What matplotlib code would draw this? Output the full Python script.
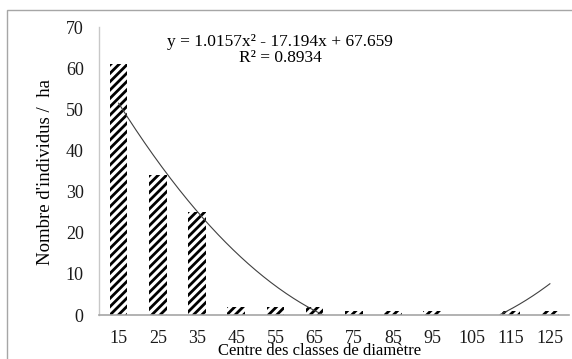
import matplotlib
matplotlib.use("Agg")
import matplotlib.pyplot as plt
import numpy as np
from matplotlib.patches import Rectangle

categories = ["15", "25", "35", "45", "55", "65", "75", "85", "95", "105", "115", "125"]
values = [61, 34, 25, 2, 2, 2, 1, 1, 1, 0, 1, 1]
coef = [1.0157, -17.194, 67.659]
eq_text = "y = 1.0157x² - 17.194x + 67.659"
r2_text = "R² = 0.8934"

plt.rcParams['font.family'] = ['Liberation Serif', 'DejaVu Serif']
plt.rcParams['hatch.linewidth'] = 2.0

W, H = 572, 359
fig = plt.figure(figsize=(W/100, H/100), dpi=100)
fig.patches.append(Rectangle((7/W, -0.1), 1.2, 1.1 - 10/H, transform=fig.transFigure,
                             fill=False, edgecolor='#a6a6a6', linewidth=1.0))

ax = fig.add_axes([99/W, 44/H, (569.5-99)/W, (315-27)/H])
x = np.arange(len(categories))
ax.bar(x, values, width=0.45, color='white', edgecolor='black', linewidth=0, hatch='////')

xi = np.linspace(1, len(categories), 400)
yi = np.polyval(coef, xi)
yi = np.where(yi < 0, np.nan, yi)
ax.plot(xi - 1, yi, color='#404040', linewidth=0.8)

ax.set_xlim(-0.5, len(categories) - 0.5)
ax.set_ylim(0, 70)
ax.set_yticks(range(0, 71, 10))
ax.set_xticks(x)
ax.set_xticklabels(categories)
ax.tick_params(length=0, labelsize=13, colors='#1a1a1a')
ax.tick_params(axis='x', pad=11)
ax.tick_params(axis='y', pad=11)
for s in ['top', 'right']:
    ax.spines[s].set_visible(False)
ax.spines['left'].set_color('#c8c8c8')
ax.spines['bottom'].set_color('#a6a6a6')
ax.spines['left'].set_linewidth(1.0)
ax.spines['bottom'].set_linewidth(1.2)

fig.text(280/W, 1 - 42/H, eq_text, ha='center', va='center', fontsize=12.5)
fig.text(280/W, 1 - 58/H, r2_text, ha='center', va='center', fontsize=12.5)
fig.text(46/W, 1 - 172/H, "Nombre d'individus /  ha", rotation=90, ha='center', va='center', fontsize=13.5)
fig.text(320/W, 1 - 351/H, "Centre des classes de diamètre", ha='center', va='center', fontsize=12)

fig.savefig("out.png", dpi=100)
